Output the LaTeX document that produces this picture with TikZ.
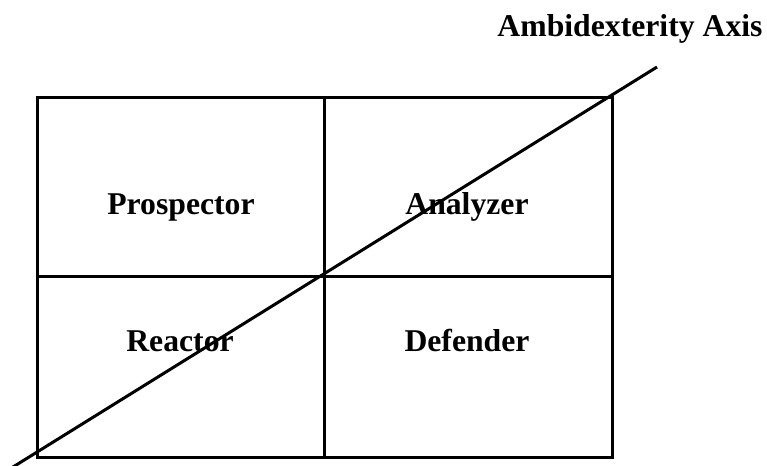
\documentclass[tikz,border=0pt]{standalone}
\usepackage{fontspec}
\setmainfont{Liberation Serif}

\tikzset{
  cell/.style={font=\fontsize{15.85}{19}\selectfont\bfseries, anchor=base, inner sep=0pt},
  grid/.style={line width=1.5pt}
}

\begin{document}
\begin{tikzpicture}[x=0.5pt, y=-0.5pt]
    \useasboundingbox (0,0) rectangle (767,466);

    % 画四个格子
    \draw[grid] (37,97) rectangle (612,457);
    \draw[grid] (324,97) -- (324,457);
    \draw[grid] (37,276) -- (612,276);

    % 画对角轴线
    \coordinate (axislow) at (13,467);
    \coordinate (axishigh) at (657,67);
    \draw[grid] (axislow) -- (axishigh);

    % 标注四种类型
    \node[cell] (prospector) at (181,214) {Prospector};
    \node[cell] (analyzer) at (467,214) {Analyzer};
    \node[cell] (reactor) at (180,351) {Reactor};
    \node[cell] (defender) at (467,351) {Defender};

    % 标注轴
    \node[cell] (axislabel) at (630,36) {Ambidexterity Axis};
\end{tikzpicture}
\end{document}
